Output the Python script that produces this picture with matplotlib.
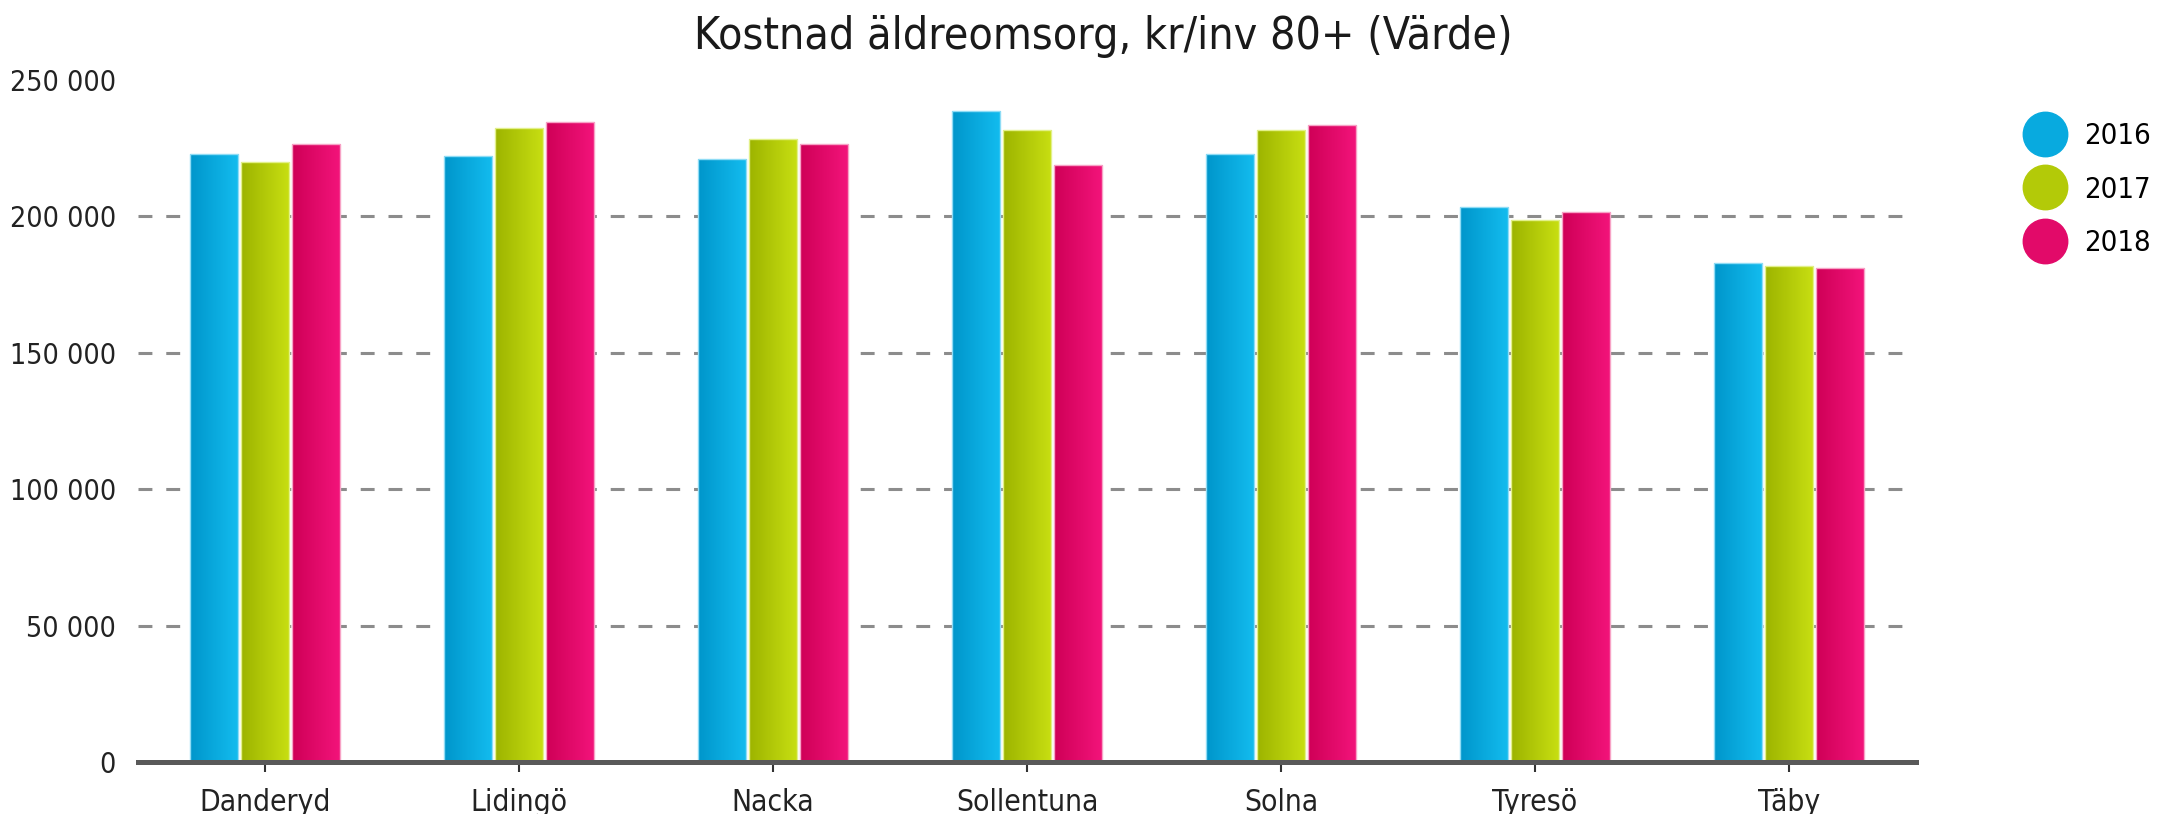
import matplotlib
matplotlib.use("Agg")
import matplotlib.pyplot as plt
import numpy as np
from matplotlib.colors import LinearSegmentedColormap
from matplotlib.lines import Line2D

plt.rcParams['font.family'] = ['DejaVu Sans']
plt.rcParams['font.stretch'] = 'condensed'
plt.rcParams['lines.scale_dashes'] = False

title = "Kostnad äldreomsorg, kr/inv 80+ (Värde)"
categories = ["Danderyd", "Lidingö", "Nacka", "Sollentuna", "Solna", "Tyresö", "Täby"]
years = ["2016", "2017", "2018"]
v2016 = [223000, 222000, 221000, 238500, 223000, 203500, 183000]
v2017 = [220000, 232500, 228500, 231500, 231500, 198500, 182000]
v2018 = [226500, 234500, 226500, 219000, 233500, 201500, 181000]
series = [v2016, v2017, v2018]
yticks = [0, 50000, 100000, 150000, 200000, 250000]

grad_colors = [("#0096cb", "#13bcef"), ("#9db400", "#c8df12"), ("#cf0057", "#f3147b")]
edge_colors = ["#8fdcf5", "#e2f08a", "#f7a3c6"]
mid_colors = ["#08aadf", "#b3ca08", "#e20a69"]

W, H = 2180, 814
fig = plt.figure(figsize=(W / 100, H / 100), dpi=100)
ax = fig.add_axes([138 / W, 1 - 762 / H, (1916 - 138) / W, (762 - 80) / H])

x = np.arange(len(categories))
bw = 0.19
step = 0.2
grad = np.linspace(0, 1, 64).reshape(1, -1)
for i, vals in enumerate(series):
    bars = ax.bar(x + (i - 1) * step, vals, width=bw, facecolor='none',
                  edgecolor=edge_colors[i], linewidth=1.0, zorder=3)
    cmap = LinearSegmentedColormap.from_list("g%d" % i, list(grad_colors[i]))
    for p in bars.patches:
        x0, w, h = p.get_x(), p.get_width(), p.get_height()
        im = ax.imshow(grad, cmap=cmap, extent=[x0, x0 + w, 0, h], aspect='auto',
                       origin='lower', zorder=2.9, interpolation='bilinear')
        im.set_clip_path(p)

ax.set_xlim(-0.5, len(categories) - 0.5)
ax.set_ylim(0, 250000)

for yv in yticks[1:-1]:
    ax.axhline(yv, color="#8c8c8c", linewidth=2.2, linestyle=(0, (10, 10)), zorder=1)

ax.set_yticks(yticks)
ax.set_yticklabels([f"{v:,}".replace(",", " ") for v in yticks])
ax.set_xticks(x)
ax.set_xticklabels(categories)
ax.tick_params(axis='y', length=0, pad=16, labelsize=20.5, labelcolor="#222222")
ax.tick_params(axis='x', length=7, width=1.5, color="#333333", pad=12,
               labelsize=21.5, labelcolor="#222222")
for s in ["top", "right", "left"]:
    ax.spines[s].set_visible(False)
ax.spines["bottom"].set_color("#595959")
ax.spines["bottom"].set_linewidth(3.6)
ax.spines["bottom"].set_zorder(4)

fig.text(1103 / W, 1 - 36 / H, title, ha='center', va='center', fontsize=32, color="#1a1a1a")

handles = [Line2D([], [], marker='o', linestyle='', markersize=32,
                  markerfacecolor=mid_colors[i], markeredgecolor=mid_colors[i]) for i in range(3)]
fig.legend(handles, years, loc='upper left', bbox_to_anchor=(2030 / W, 1 - 122 / H),
           frameon=False, fontsize=21, labelspacing=0.88, handletextpad=0.85,
           handlelength=1.0, borderpad=0, borderaxespad=0)

fig.savefig("out.png", dpi=100)
